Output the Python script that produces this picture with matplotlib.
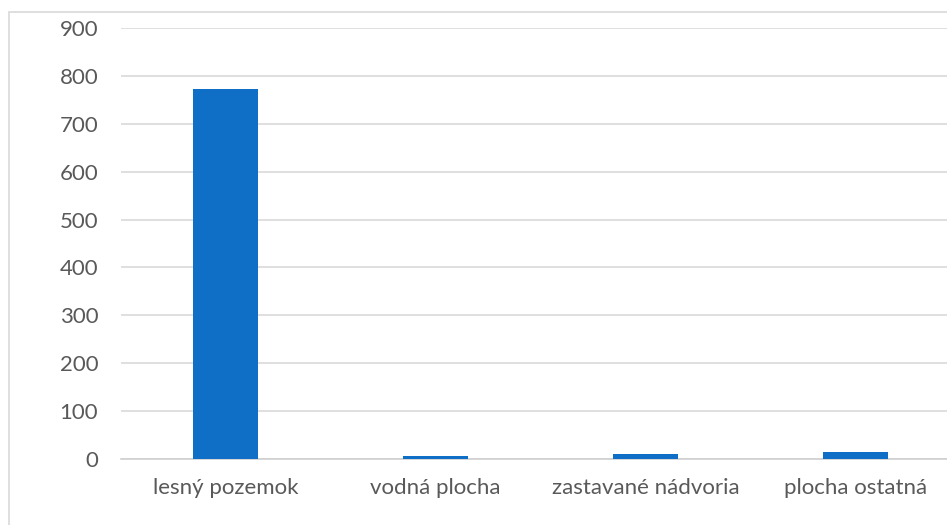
import matplotlib.pyplot as plt
from matplotlib.patches import Rectangle

kategorie = ['lesný pozemok', 'vodná plocha', 'zastavané nádvoria', 'plocha ostatná']
hodnoty = [772, 6, 10, 14]
yTicky = [0, 100, 200, 300, 400, 500, 600, 700, 800, 900]

plt.rcParams['font.family'] = ['Lato', 'DejaVu Sans']

fig = plt.figure(figsize=(9.47, 5.25), dpi=100)
# axes presahuje pravy okraj obrazka (orezany graf)
ax = fig.add_axes([120.5 / 947, 1 - 459 / 525, 840 / 947, 431 / 525])

ax.bar(range(len(kategorie)), hodnoty, width=0.31, color='#0F6FC6', zorder=3)
ax.set_xlim(-0.5, len(kategorie) - 0.5)
ax.set_ylim(0, 900)
ax.set_yticks(yTicky)
ax.set_xticks(range(len(kategorie)))
ax.set_xticklabels(kategorie)

ax.grid(axis='y', color='#d9d9d9', linewidth=1.2, zorder=0)
for s in ['top', 'right', 'left']:
    ax.spines[s].set_visible(False)
ax.spines['bottom'].set_color('#d0d0d0')
ax.spines['bottom'].set_linewidth(1.2)
ax.tick_params(axis='both', length=0, labelsize=16, labelcolor='#595959')
ax.tick_params(axis='y', pad=16)
ax.tick_params(axis='x', pad=14)

# ramik grafu
fig.patches.append(Rectangle((8.5 / 947, -0.1), 1.2, 1.1 - 12.5 / 525,
                             transform=fig.transFigure, fill=False,
                             edgecolor='#d9d9d9', linewidth=1.2))

fig.savefig('out.png', dpi=100)
